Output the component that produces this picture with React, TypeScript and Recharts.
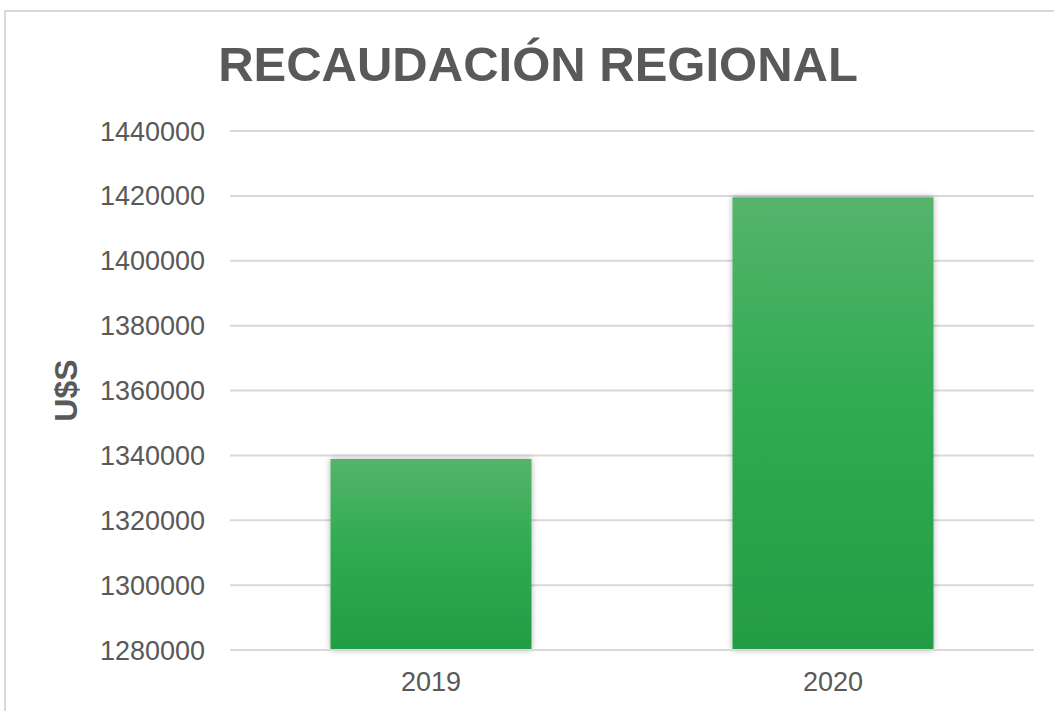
import React from 'react';
import { BarChart, Bar, XAxis, YAxis, CartesianGrid } from 'recharts';

const years = ['2019', '2020'];
const recaudacion = [1338900, 1419600];
const yTicks = [1280000, 1300000, 1320000, 1340000, 1360000, 1380000, 1400000, 1420000, 1440000];

const data = years.map((year, i) => ({ year, value: recaudacion[i] }));

const FONT = '"Liberation Sans", Arial, sans-serif';
const TEXT = '#595959';

const App: React.FC = () => {
  return (
    <div style={{ position: 'absolute', left: 0, top: 0, width: 1054, height: 711, overflow: 'hidden', background: '#fff', fontFamily: FONT }}>
      {/* chart frame */}
      <div
        style={{
          position: 'absolute',
          left: 4,
          top: 10,
          width: 1070,
          height: 730,
          border: '2px solid #d9d9d9',
        }}
      />
      <div
        style={{
          position: 'absolute',
          left: 0,
          top: 34,
          width: 1076,
          textAlign: 'center',
          fontSize: 49,
          fontWeight: 'bold',
          color: TEXT,
          lineHeight: '60px',
        }}
      >
        RECAUDACIÓN REGIONAL
      </div>
      <div style={{ position: 'absolute', left: 0, top: 0 }}>
        <BarChart
          width={1054}
          height={711}
          data={data}
          margin={{ top: 131, right: 20, bottom: 0, left: 40 }}
          barCategoryGap="25%"
        >
          <defs>
            <linearGradient id="greenFill" x1="0" y1="0" x2="0" y2="1">
              <stop offset="0%" stopColor="#55b46c" />
              <stop offset="45%" stopColor="#30ab52" />
              <stop offset="100%" stopColor="#239d44" />
            </linearGradient>
            <filter id="barShadow" x="-10%" y="-10%" width="120%" height="120%">
              <feDropShadow dx="0" dy="0" stdDeviation="3" floodColor="#000" floodOpacity="0.3" />
            </filter>
          </defs>
          <CartesianGrid vertical={false} stroke="#d9d9d9" strokeWidth={2} />
          <XAxis
            dataKey="year"
            height={61}
            axisLine={{ stroke: '#d9d9d9', strokeWidth: 2 }}
            tickLine={false}
            tickSize={0}
            tickMargin={22}
            tick={{ fill: TEXT, fontSize: 27, fontFamily: FONT }}
          />
          <YAxis
            width={190}
            domain={[1280000, 1440000]}
            ticks={yTicks}
            interval={0}
            axisLine={false}
            tickLine={false}
            tickSize={0}
            tickMargin={25}
            tick={{ fill: TEXT, fontSize: 27, fontFamily: FONT }}
            label={{
              value: 'U$S',
              angle: -90,
              position: 'insideLeft',
              offset: 26,
              style: { textAnchor: 'middle', fill: TEXT, fontSize: 32, fontWeight: 'bold', fontFamily: FONT },
            }}
          />
          <Bar
            dataKey="value"
            fill="url(#greenFill)"
            filter="url(#barShadow)"
            isAnimationActive={false}
          />
        </BarChart>
      </div>
    </div>
  );
};

export default App;
